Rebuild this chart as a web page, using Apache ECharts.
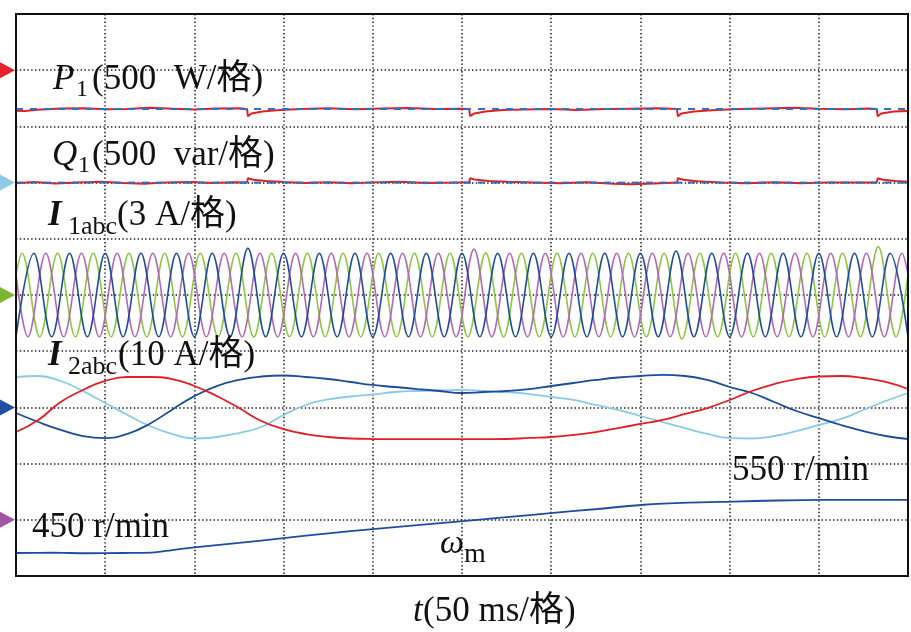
<!DOCTYPE html>
<html><head><meta charset="utf-8">
<script src="https://cdn.jsdelivr.net/npm/echarts@6/dist/echarts.min.js"></script>
<style>html,body{margin:0;padding:0;background:#fff}#c{width:911px;height:632px}</style>
</head><body><div id="c"></div>
<script>
// ---------------- data ----------------
// time axis: 10 divisions x 50 ms
const timeMin = 0, timeMax = 500, timeStep = 50;

// P1 (W): reference (blue dashed) and measured (red)
const p1Ref = [[0,-345],[500,-345]];
const p1Meas = [[0,-360],[5,-362],[12,-352],[25,-340],[38,-338],[50,-348],[62,-345],[75,-335],[88,-342],[100,-350],[112,-340],[125,-338],[129.5,-345],[130,-410],[132,-385],[138,-368],[148,-355],[160,-345],[175,-338],[190,-348],[205,-340],[220,-336],[235,-345],[250,-342],[254,-345],[254.5,-408],[257,-385],[263,-368],[273,-355],[285,-350],[300,-345],[315,-355],[330,-346],[345,-342],[360,-338],[370.5,-345],[371,-410],[373,-385],[380,-368],[390,-356],[405,-345],[420,-340],[435,-335],[450,-344],[465,-348],[478,-340],[482.5,-345],[483,-410],[485,-385],[492,-368],[500,-362]];

// Q1 (var)
const q1Ref = [[0,0],[500,0]];
const q1Meas = [[0,-5],[10,5],[22,-8],[35,0],[48,8],[60,-3],[72,-10],[85,2],[98,6],[110,-4],[122,3],[129.5,0],[130,38],[133,25],[140,15],[150,5],[162,-4],[175,3],[188,-6],[200,2],[215,8],[230,-3],[245,0],[254,2],[254.5,40],[257,28],[265,15],[275,8],[290,0],[305,-5],[320,4],[335,-10],[345,-15],[358,-8],[370.5,0],[371,38],[374,25],[382,12],[395,0],[410,-6],[425,3],[440,-5],[455,2],[470,0],[482.5,2],[483,38],[486,26],[493,14],[500,8]];

// I1abc (A): extremes of each phase current
const i1A = [[0,1.1],
[3.3,2.23],[13.3,-2.23],[23.3,2.23],[33.3,-2.23],[43.3,2.23],[53.3,-2.23],[63.3,2.23],[73.3,-2.23],[83.3,2.23],[93.3,-2.23],
[103.3,2.23],[113.3,-2.23],[123.3,2.23],[133.3,-2.25],[143.3,2.23],[153.3,-2.23],[163.3,2.23],[173.3,-2.23],[183.3,2.23],[193.3,-2.23],
[203.3,2.23],[213.3,-2.23],[223.3,2.23],[233.3,-2.23],[243.3,2.23],[253.3,-2.23],[263.3,2.25],[273.3,-2.23],[283.3,2.23],[293.3,-2.23],
[303.3,2.23],[313.3,-2.23],[323.3,2.23],[333.3,-2.23],[343.3,2.23],[353.3,-2.23],[363.3,2.23],[373.3,-2.35],[383.3,2.23],[393.3,-2.23],
[403.3,2.23],[413.3,-2.23],[423.3,2.23],[433.3,-2.23],[443.3,2.23],[453.3,-2.23],[463.3,2.23],[473.3,-2.23],[483.3,2.58],[493.3,-2.23],
[500,1.1]];
const i1B = [[0,-2.23],[10,2.23],[20,-2.23],[30,2.23],[40,-2.23],[50,2.23],[60,-2.23],[70,2.23],[80,-2.23],[90,2.23],
[100,-2.23],[110,2.23],[120,-2.23],[130,2.5],[140,-2.23],[150,2.23],[160,-2.23],[170,2.23],[180,-2.23],[190,2.23],
[200,-2.23],[210,2.23],[220,-2.23],[230,2.23],[240,-2.23],[250,2.23],[260,-2.23],[270,2.23],[280,-2.23],[290,2.23],
[300,-2.23],[310,2.23],[320,-2.23],[330,2.23],[340,-2.23],[350,2.23],[360,-2.23],[370,2.35],[380,-2.23],[390,2.23],
[400,-2.23],[410,2.23],[420,-2.23],[430,2.23],[440,-2.23],[450,2.23],[460,-2.23],[470,2.23],[480,-2.23],[490,2.23],
[500,-2.23]];
const i1C = [[0,1.1],
[6.7,-2.23],[16.7,2.23],[26.7,-2.23],[36.7,2.23],[46.7,-2.23],[56.7,2.23],[66.7,-2.23],[76.7,2.23],[86.7,-2.23],[96.7,2.23],
[106.7,-2.23],[116.7,2.23],[126.7,-2.23],[136.7,2.23],[146.7,-2.23],[156.7,2.23],[166.7,-2.23],[176.7,2.23],[186.7,-2.23],[196.7,2.23],
[206.7,-2.23],[216.7,2.23],[226.7,-2.23],[236.7,2.23],[246.7,-2.23],[256.7,2.45],[266.7,-2.23],[276.7,2.23],[286.7,-2.23],[296.7,2.23],
[306.7,-2.23],[316.7,2.23],[326.7,-2.23],[336.7,2.23],[346.7,-2.23],[356.7,2.23],[366.7,-2.23],[376.7,2.23],[386.7,-2.23],[396.7,2.23],
[406.7,-2.23],[416.7,2.23],[426.7,-2.23],[436.7,2.23],[446.7,-2.23],[456.7,2.23],[466.7,-2.23],[476.7,2.23],[486.7,-2.23],[496.7,2.23],
[500,1.1]];

// I2abc (A), sampled every 12.5 ms
const i2Time = [0,12.5,25,37.5,50,62.5,75,87.5,100,112.5,125,137.5,150,162.5,175,187.5,200,212.5,225,237.5,250,262.5,275,287.5,300,312.5,325,337.5,350,362.5,375,387.5,400,412.5,425,437.5,450,462.5,475,487.5,500];
const i2Red  = [-4.38,-2.24,0.96,3.10,4.70,5.41,5.41,5.05,3.81,2.03,-0.11,-2.42,-3.85,-4.74,-5.27,-5.53,-5.62,-5.64,-5.65,-5.66,-5.66,-5.65,-5.62,-5.44,-5.27,-4.91,-4.38,-3.67,-2.95,-2.24,-1.17,-0.11,1.32,2.92,4.16,5.05,5.50,5.59,5.23,4.52,3.27];
const i2Blue = [-1.00,-2.60,-4.00,-5.10,-5.45,-4.70,-2.90,-0.40,2.00,3.80,4.90,5.50,5.68,5.41,5.05,4.52,3.99,3.63,3.27,2.92,2.56,2.74,2.92,3.27,3.81,4.34,4.88,5.32,5.59,5.77,5.59,4.88,3.63,2.56,0.96,-0.64,-1.89,-3.13,-4.20,-5.09,-5.62];
const i2Cyan = [5.41,5.59,4.70,2.92,0.78,-1.35,-3.31,-4.73,-5.53,-5.27,-4.56,-3.49,-1.35,0.43,1.41,1.94,2.30,2.74,2.92,3.01,3.10,2.92,2.74,2.38,1.85,1.32,0.43,-0.46,-1.53,-2.60,-3.67,-4.73,-5.44,-5.53,-5.09,-4.20,-3.13,-2.06,-0.46,1.14,2.56];

// omega_m (r/min)
const omega = [[0,450],[20,450.5],[40,449.5],[60,450],[76,450.5],[82,453],[100,460.5],[125,469],[150,478],[175,487],[200,495],[225,502.5],[250.7,510],[275,517.5],[301,525.5],[326,533],[352,541],[377,545],[402,547],[427,549],[452,550],[476,550],[500,550]];

// channel scales (units per division) and reference divisions (counted from bottom)
const P_PER_DIV = 500, Q_PER_DIV = 500, I1_PER_DIV = 3, I2_PER_DIV = 10, W_PER_DIV = 106;
const P_REF = 9, Q_REF = 7, I1_REF = 5, I2_REF = 3, W_REF = 1;
const W_AT_BOTTOM = 406.6;

// ---------------- chart ----------------
const chart = echarts.init(document.getElementById('c'), null, {renderer:'canvas'});
const FONT = "'Liberation Serif','Times New Roman','Noto Sans CJK SC',serif";
const C = {red:'#e31e26', refBlue:'#2f6fc6', green:'#8dc63f', blue:'#1d4c9c', purple:'#b466b8', cyan:'#87cbe6', omega:'#1e4da0'};
const hid = (min,max)=>({type:'value', show:false, min, max, splitLine:{show:false}});
const dotted = {show:true, lineStyle:{color:'#1a1a1a', width:1.5, type:[1.4,2.4]}};
const line = (name, data, yi, color, w, extra) => Object.assign({
  name, type:'line', data, xAxisIndex:0, yAxisIndex:yi, showSymbol:false, symbol:'none',
  lineStyle:{color, width:w}, itemStyle:{color}, animation:false, silent:true, clip:true
}, extra||{});
const zip = (t, v) => t.map((x,i)=>[x, v[i]]);

chart.setOption({
  animation:false,
  backgroundColor:'#fff',
  grid:{left:16, top:14, right:3, bottom:56, show:true, borderColor:'#111', borderWidth:2, backgroundColor:'transparent', z:10},
  xAxis:{type:'value', min:timeMin, max:timeMax, interval:timeStep, axisLine:{show:false}, axisTick:{show:false}, axisLabel:{show:false}, splitLine:dotted},
  yAxis:[
    {type:'value', min:0, max:10, interval:1, axisLine:{show:false}, axisTick:{show:false}, axisLabel:{show:false}, splitLine:dotted},
    hid(-P_REF*P_PER_DIV, (10-P_REF)*P_PER_DIV),
    hid(-Q_REF*Q_PER_DIV, (10-Q_REF)*Q_PER_DIV),
    hid(-I1_REF*I1_PER_DIV, (10-I1_REF)*I1_PER_DIV),
    hid(-I2_REF*I2_PER_DIV, (10-I2_REF)*I2_PER_DIV),
    hid(W_AT_BOTTOM, W_AT_BOTTOM + 10*W_PER_DIV)
  ],
  series:[
    line('P1', p1Meas, 1, C.red, 2),
    line('P1ref', p1Ref, 1, C.refBlue, 2, {lineStyle:{color:C.refBlue, width:2, type:[7,7]}}),
    line('Q1', q1Meas, 2, C.red, 2),
    line('Q1ref', q1Ref, 2, C.refBlue, 2, {lineStyle:{color:C.refBlue, width:2, type:[7,7]}}),
    line('I1a', i1A, 3, C.green, 1.6, {smooth:0.36}),
    line('I1c', i1C, 3, C.purple, 1.6, {smooth:0.36}),
    line('I1b', i1B, 3, C.blue, 1.6, {smooth:0.36}),
    line('I2c', zip(i2Time, i2Cyan), 4, C.cyan, 1.8, {smooth:0.5}),
    line('I2b', zip(i2Time, i2Blue), 4, C.blue, 1.8, {smooth:0.5}),
    line('I2a', zip(i2Time, i2Red), 4, C.red, 1.8, {smooth:0.5}),
    line('omega', omega, 5, C.omega, 1.8, {smooth:0.3})
  ]
});

// ---------------- decorations: channel markers and labels ----------------
const markers = [[P_REF,'#e5202a'],[Q_REF,'#8fcbe8'],[I1_REF,'#7cb82f'],[I2_REF,'#1f4f9e'],[W_REF,'#a0579f']];
const g = [];
markers.forEach(([d,col])=>{
  const y = chart.convertToPixel({yAxisIndex:0}, d);
  g.push({type:'polygon', shape:{points:[[0,y-8],[15,y],[0,y+8]]}, style:{fill:col}, z:20, silent:true});
});
const txt = (x, y, text, size, style, weight) => ({type:'text', x, y, z:30, silent:true,
  style:{text, fill:'#111', fontFamily:FONT, fontSize:size, fontStyle:style||'normal', fontWeight:weight||'normal', align:'left', verticalAlign:'middle'}});
g.push(
  txt(53, 80, 'P', 35, 'italic'), txt(76, 90, '1', 24), txt(92, 80, '(500  W/格)', 35),
  txt(52, 156, 'Q', 35, 'italic'), txt(78, 166, '1', 24), txt(92, 156, '(500  var/格)', 35),
  txt(48, 216, 'I', 35, 'italic', 'bold'), txt(68, 227, '1abc', 26), txt(117, 216, '(3 A/格)', 35),
  txt(48, 356, 'I', 35, 'italic', 'bold'), txt(68, 367, '2abc', 26), txt(118, 356, '(10 A/格)', 35),
  txt(32, 528, '450 r/min', 35),
  txt(732, 471, '550 r/min', 35),
  txt(440, 544, 'ω', 34, 'italic'), txt(464, 555, 'm', 28),
  txt(413, 612, 't', 35, 'italic'), txt(423, 612, '(50 ms/格)', 35)
);
chart.setOption({graphic:g});
</script></body></html>
